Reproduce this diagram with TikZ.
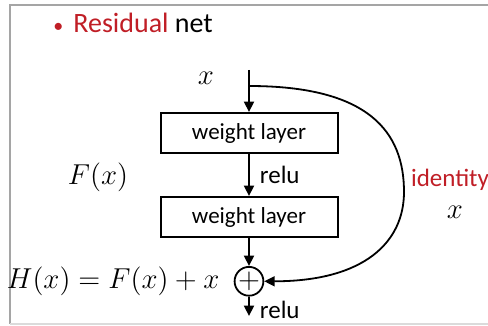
\documentclass[tikz,border=0pt]{standalone}
\usepackage{fontspec}
\setmainfont{Carlito}
\usepackage{xcolor}
\usetikzlibrary{arrows.meta, positioning}
\definecolor{resred}{RGB}{192,30,38}
\definecolor{framegray}{RGB}{165,165,165}

\begin{document}
\begin{tikzpicture}[x=0.5pt, y=-0.5pt,
  layer/.style={draw, line width=1pt, minimum width=88.5pt, minimum height=20pt, inner sep=0pt, font=\fontsize{11.5}{13}\selectfont},
  edge/.style={-{Triangle[length=5.2pt, width=5pt]}, line width=0.9pt},
  lab/.style={font=\fontsize{12.5}{14}\selectfont, inner sep=1pt},
  sumnode/.style={draw, circle, line width=0.9pt, minimum size=10.5pt, inner sep=0pt, font=\fontsize{14}{14}\selectfont},
  mathlab/.style={font=\fontsize{14.5}{17}\selectfont, inner sep=0pt}
]
\useasboundingbox (0,0) rectangle (488,326);
\draw[framegray, line width=0.8pt] (488,5) -- (10,5) -- (10,324);
\draw[framegray!40, line width=0.8pt] (10,324) -- (488,324);

\node[anchor=west, font=\fontsize{14}{16}\selectfont, inner sep=0pt] (title) at (53,23) {\textcolor{resred}{{\fontsize{10}{12}\selectfont •}\hspace{5pt}Residual} net};

\node[layer] (L1) at (249,133) {weight layer};
\node[layer, below=21pt of L1] (L2) {weight layer};
\node[sumnode, below=14pt of L2] (sum) {$+$};
\coordinate (in) at (249,70);
\coordinate (split) at (249,86);
\coordinate (out) at (249,316);
\coordinate (bend) at (404,192);

\node[mathlab] (xin) at (206,78) {$x$};
\node[mathlab] (Fx) at (98,177) {$F(x)$};
\node[mathlab, left=7pt of sum, font=\fontsize{13.5}{16}\selectfont] (Hx) {$H(x) = F(x) + x$};
\node[lab, text=resred] (id) at (450,180) {identity};
\node[mathlab] (xid) at (455,212) {$x$};

\draw[line width=0.9pt] (in) -- (split);
\draw[edge] (split) -- (L1);
\draw[edge] (L1) -- node[lab, right=4pt] {relu} (L2);
\draw[edge] (L2) -- (sum);
\draw[edge] (sum) -- node[lab, right=4pt, yshift=-2pt] {relu} (out);
\draw[edge] (split) .. controls +(120,0) and +(0,-60) .. (bend) .. controls +(0,50) and +(100,0) .. (sum.east);
\end{tikzpicture}
\end{document}
